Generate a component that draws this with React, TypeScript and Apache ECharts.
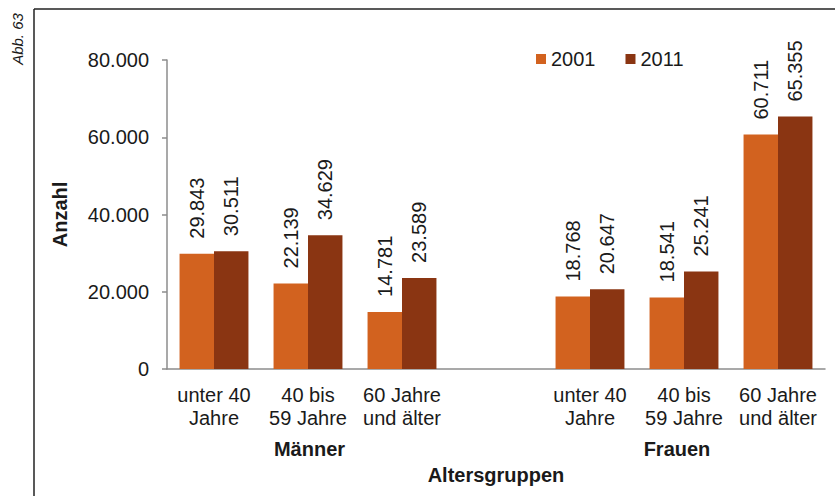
import React, { useEffect, useRef } from "react";
import * as echarts from "echarts";

const categories = ["unter 40\nJahre", "40 bis\n59 Jahre", "60 Jahre\nund älter", "", "unter 40\nJahre", "40 bis\n59 Jahre", "60 Jahre\nund älter"];
const groupLabels = ["", "Männer", "", "", "", "Frauen", ""];
const seriesNames = ["2001", "2011"];
const values2001 = [29843, 22139, 14781, null, 18768, 18541, 60711];
const values2011 = [30511, 34629, 23589, null, 20647, 25241, 65355];
const yTicks = { min: 0, max: 80000, interval: 20000 };

const FONT = "'Liberation Sans', Arial, sans-serif";
const TEXT = "#1a1a1a";
const COLORS = ["#D2621F", "#8A3512"];

const fmt = (v: number) => {
  if (v === 0) return "0";
  const s = Math.round(v).toString();
  return s.replace(/\B(?=(\d{3})+(?!\d))/g, ".");
};

export default function App() {
  const ref = useRef<HTMLDivElement>(null);
  useEffect(() => {
    if (!ref.current) return;
    const chart = echarts.init(ref.current, null, { renderer: "svg" });
    const label = {
      show: true,
      position: "top",
      rotate: 90,
      align: "left",
      verticalAlign: "middle",
      distance: 15,
      fontSize: 20,
      fontFamily: FONT,
      color: TEXT,
      formatter: (p: any) => fmt(p.value),
    };
    chart.setOption({
      animation: false,
      backgroundColor: "#ffffff",
      textStyle: { fontFamily: FONT },
      grid: { left: 167, right: 10, top: 60, bottom: 127, containLabel: false },
      legend: {
        data: seriesNames,
        left: 531,
        top: 44,
        itemWidth: 10,
        itemHeight: 10,
        itemGap: 30,
        icon: "rect",
        textStyle: { fontSize: 20, fontFamily: FONT, color: TEXT, padding: [0, 0, 0, 0] },
      },
      xAxis: [
        {
          type: "category",
          data: categories,
          position: "bottom",
          axisLine: { show: true, lineStyle: { color: "#8c8c8c", width: 1.5 } },
          axisTick: { show: false },
          axisLabel: {
            interval: 0,
            margin: 14,
            fontSize: 20,
            lineHeight: 23,
            fontFamily: FONT,
            color: TEXT,
          },
        },
        {
          type: "category",
          data: groupLabels,
          position: "bottom",
          offset: 54,
          axisLine: { show: false },
          axisTick: { show: false },
          axisLabel: {
            interval: 0,
            margin: 14,
            fontSize: 20,
            lineHeight: 23,
            fontWeight: "bold",
            fontFamily: FONT,
            color: TEXT,
            formatter: (v: string) => (v === "Frauen" ? "{f|" + v + "}" : "{m|" + v + "}"),
            rich: {
              f: { fontSize: 20, fontWeight: "bold", fontFamily: FONT, color: TEXT, padding: [0, 14, 0, 0] },
              m: { fontSize: 20, fontWeight: "bold", fontFamily: FONT, color: TEXT, padding: [0, 0, 0, 3] },
            },
          },
          name: "Altersgruppen",
          nameLocation: "middle",
          nameGap: 38,
          nameTextStyle: { fontSize: 20, fontWeight: "bold", fontFamily: FONT, color: TEXT },
        },
      ],
      yAxis: {
        type: "value",
        min: yTicks.min,
        max: yTicks.max,
        interval: yTicks.interval,
        name: "Anzahl",
        nameLocation: "middle",
        nameGap: 97,
        nameTextStyle: { fontSize: 20, fontWeight: "bold", fontFamily: FONT, color: TEXT },
        axisLine: { show: true, lineStyle: { color: "#8c8c8c", width: 1.5 } },
        axisTick: { show: true, length: 5, lineStyle: { color: "#8c8c8c", width: 1.5 } },
        splitLine: { show: false },
        axisLabel: {
          margin: 18,
          fontSize: 20,
          fontFamily: FONT,
          color: TEXT,
          formatter: (v: number) => fmt(v),
        },
      },
      series: [
        {
          name: seriesNames[0],
          type: "bar",
          data: values2001,
          xAxisIndex: 0,
          barGap: "0%",
          barCategoryGap: "26.7%",
          itemStyle: { color: COLORS[0] },
          label,
        },
        {
          name: seriesNames[1],
          type: "bar",
          data: values2011,
          xAxisIndex: 0,
          barGap: "0%",
          barCategoryGap: "26.7%",
          itemStyle: { color: COLORS[1] },
          label,
        },
      ],
      graphic: [
        {
          type: "line",
          shape: { x1: 34, y1: 9, x2: 835, y2: 9 },
          style: { stroke: "#222", lineWidth: 1.5 },
        },
        {
          type: "line",
          shape: { x1: 34, y1: 9, x2: 34, y2: 496 },
          style: { stroke: "#222", lineWidth: 1.5 },
        },
        {
          type: "text",
          x: 17,
          y: 39,
          rotation: Math.PI / 2,
          style: {
            text: "Abb. 63",
            fontSize: 15,
            fontStyle: "italic",
            fontFamily: FONT,
            fill: TEXT,
            align: "center",
            verticalAlign: "middle",
          },
        },
      ],
    });
    return () => chart.dispose();
  }, []);
  return <div ref={ref} style={{ position: "fixed", left: 0, top: 0, width: 835, height: 496 }} />;
}
